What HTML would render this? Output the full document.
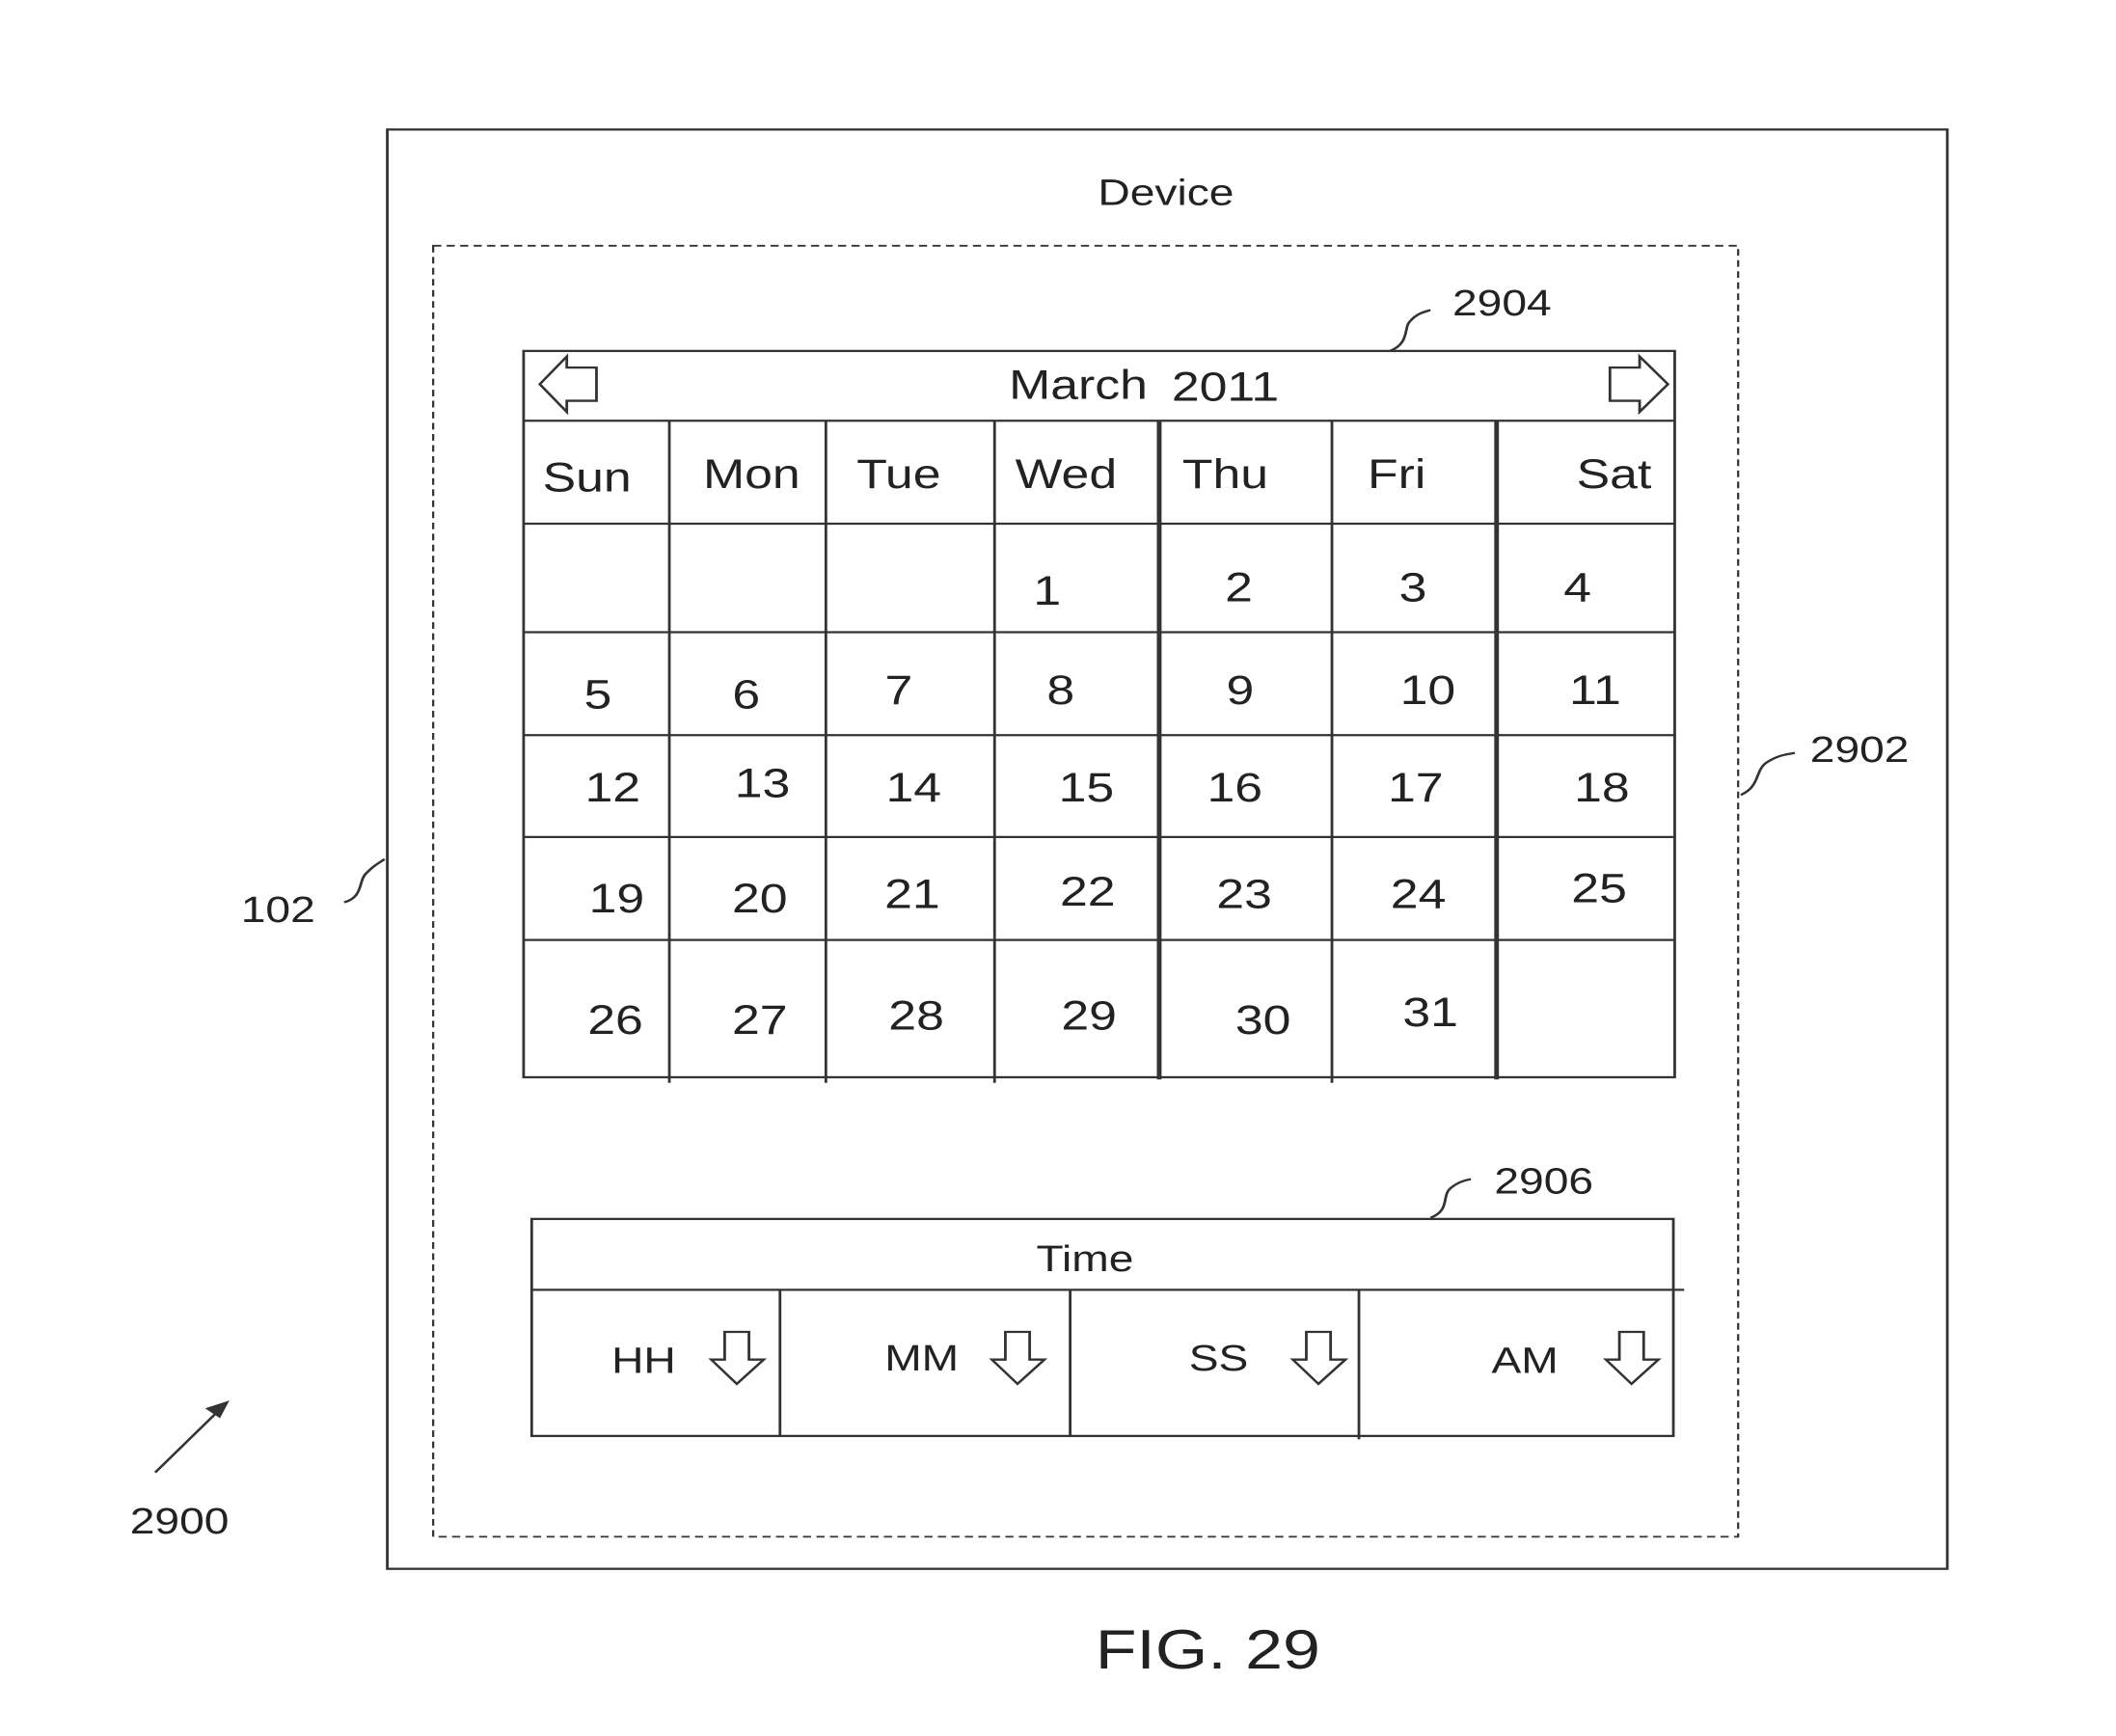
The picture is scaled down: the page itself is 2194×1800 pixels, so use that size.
<!DOCTYPE html>
<html><head><style>html,body{margin:0;padding:0;background:#fff}svg{display:block}</style></head>
<body>
<svg width="2194" height="1800" viewBox="0 0 1568 1568" preserveAspectRatio="none" xmlns="http://www.w3.org/2000/svg" font-family="Liberation Sans, Arial, sans-serif" fill="#222">
<g fill="none" stroke="#333" stroke-width="2">
<rect x="287" y="117" width="1156" height="1300"/>
<rect x="321" y="222" width="967" height="1166" stroke-dasharray="6,4" stroke-width="1.6"/>
<rect x="388" y="317" width="853" height="656"/>
<line x1="388" y1="380" x2="1241" y2="380"/>
<line x1="388" y1="473" x2="1241" y2="473"/>
<line x1="388" y1="571" x2="1241" y2="571"/>
<line x1="388" y1="664" x2="1241" y2="664"/>
<line x1="388" y1="756" x2="1241" y2="756"/>
<line x1="388" y1="849" x2="1241" y2="849"/>
<line x1="496" y1="380" x2="496" y2="978"/>
<line x1="612" y1="380" x2="612" y2="978"/>
<line x1="737" y1="380" x2="737" y2="978"/>
<line x1="859" y1="380" x2="859" y2="975" stroke-width="3.5"/>
<line x1="987" y1="380" x2="987" y2="978"/>
<line x1="1109" y1="380" x2="1109" y2="975" stroke-width="3.5"/>
<path d="M442 332 L420 332 L420 322 L400 347 L420 372 L420 362 L442 362 Z"/>
<path d="M1193 332 L1215 332 L1215 322 L1236 347 L1215 372 L1215 362 L1193 362 Z"/>
<rect x="394" y="1101" width="846" height="196"/>
<line x1="394" y1="1165" x2="1248" y2="1165"/>
<line x1="578" y1="1165" x2="578" y2="1297"/>
<line x1="793" y1="1165" x2="793" y2="1297"/>
<line x1="1007" y1="1165" x2="1007" y2="1300"/>
<path d="M537 1203 L555 1203 L555 1228 L566 1228 L546 1250 L527 1228 L537 1228 Z"/>
<path d="M745 1203 L763 1203 L763 1228 L774 1228 L754 1250 L735 1228 L745 1228 Z"/>
<path d="M968 1203 L986 1203 L986 1228 L997 1228 L977 1250 L958 1228 L968 1228 Z"/>
<path d="M1200 1203 L1218 1203 L1218 1228 L1229 1228 L1209 1250 L1190 1228 L1200 1228 Z"/>
<path d="M1030 317 C1045 310, 1040 295, 1045 290 C1050 283, 1055 282, 1060 280"/>
<path d="M1290 718 C1305 710, 1300 695, 1310 688 C1318 682, 1322 682, 1330 680"/>
<path d="M255 815 C270 810, 265 795, 272 788 C277 782, 280 780, 285 776"/>
<path d="M1060 1100 C1075 1093, 1068 1080, 1075 1073 C1080 1068, 1085 1066, 1090 1065"/>
<line x1="115" y1="1330" x2="168" y2="1267"/>
</g>
<path d="M170 1265 L152 1272 L163 1281 Z" fill="#333"/>
<g font-size="33" text-anchor="middle">
<text x="864" y="185">Device</text>
<text x="1113" y="285">2904</text>
<text x="1378" y="688">2902</text>
<text x="206" y="833">102</text>
<text x="1144" y="1078">2906</text>
<text x="133" y="1385">2900</text>
<text x="804" y="1148">Time</text>
<text x="477" y="1240">HH</text>
<text x="683" y="1238">MM</text>
<text x="903" y="1238">SS</text>
<text x="1130" y="1240">AM</text>
</g>
<g font-size="37" text-anchor="middle">
<text x="799" y="360">March</text>
<text x="908" y="362">2011</text>
<text x="435" y="444">Sun</text>
<text x="557" y="441">Mon</text>
<text x="666" y="441">Tue</text>
<text x="790" y="441">Wed</text>
<text x="908" y="441">Thu</text>
<text x="1035" y="441">Fri</text>
<text x="1196" y="441">Sat</text>
<text x="776" y="546">1</text><text x="918" y="543">2</text><text x="1047" y="543">3</text><text x="1169" y="543">4</text>
<text x="443" y="640">5</text><text x="553" y="640">6</text><text x="666" y="636">7</text><text x="786" y="636">8</text><text x="919" y="636">9</text><text x="1058" y="636">10</text><text x="1182" y="636">11</text>
<text x="454" y="724">12</text><text x="565" y="720">13</text><text x="677" y="724">14</text><text x="805" y="724">15</text><text x="915" y="724">16</text><text x="1049" y="724">17</text><text x="1187" y="724">18</text>
<text x="457" y="824">19</text><text x="563" y="824">20</text><text x="676" y="820">21</text><text x="806" y="818">22</text><text x="922" y="820">23</text><text x="1051" y="820">24</text><text x="1185" y="815">25</text>
<text x="456" y="934">26</text><text x="563" y="934">27</text><text x="679" y="930">28</text><text x="807" y="930">29</text><text x="936" y="934">30</text><text x="1060" y="927">31</text>
</g>
<text x="895" y="1507" font-size="50" text-anchor="middle">FIG. 29</text>
</svg>
</body></html>
